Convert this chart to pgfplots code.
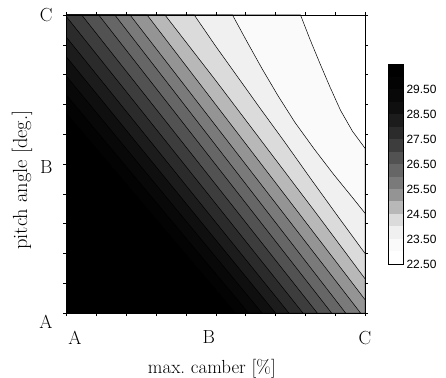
\documentclass[border=0pt]{standalone}
\usepackage{fontspec}
\newfontfamily\libsans{Liberation Sans}
\usepackage{pgfplots}
\pgfplotsset{compat=1.18}
\begin{document}
\begin{tikzpicture}
\begin{axis}[
  at={(0,0)}, anchor=south west,
  scale only axis, width=298.5bp, height=298bp,
  xmin=0, xmax=1, ymin=0, ymax=1,
  axis on top,
  axis line style={line width=0.6pt},
  tick align=outside,
  major tick length=0pt, minor tick length=3bp,
  every tick/.style={black, line width=0.5pt},
  xtick={0.028,0.477,1}, xticklabels={A,B,C},
  ytick={0,0.49,1}, yticklabels={\smash{\raisebox{-15.5bp}{A}},B,C},
  minor xtick={0,0.1,0.2,0.3,0.4,0.5,0.6,0.7,0.8,0.9,1},
  minor ytick={0,0.1,0.2,0.3,0.4,0.5,0.6,0.7,0.8,0.9,1},
  tick label style={font=\fontsize{19}{22}\selectfont},
  xticklabel style={yshift=-14.5bp},
  yticklabel style={xshift=-10.5bp},
  xlabel={max.\ camber [\%]},
  ylabel={pitch angle [deg.]},
  xlabel style={at={(axis description cs:0.487,-0.188)}, anchor=center, font=\fontsize{19}{22}\selectfont},
  ylabel style={at={(axis description cs:-0.149,0.446)}, anchor=center, font=\fontsize{20.5}{24}\selectfont},
]
% level 23.0
\addplot[fill=black!2, draw=black, line width=0.5pt] coordinates {(0,0)(0,1)(0.784,1)(0.815,0.92)(0.848,0.84)(0.882,0.76)(0.918,0.68)(0.958,0.61)(1,0.553)(1,0)} --cycle;
% level 23.5
\addplot[fill=black!6, draw=black, line width=0.5pt] coordinates {(0,0)(0,1)(0.556,1)(0.605,0.91)(0.655,0.82)(0.708,0.73)(0.765,0.64)(0.83,0.55)(0.895,0.465)(0.96,0.385)(1,0.335)(1,0)} --cycle;
% level 24.0
\addplot[fill=black!14, draw=black, line width=0.5pt] coordinates {(0,0)(0,1)(0.428,1)(0.50,0.895)(0.575,0.79)(0.65,0.685)(0.73,0.575)(0.815,0.455)(0.905,0.33)(1,0.20)(1,0)} --cycle;
% level 24.5
\addplot[fill=black!28, draw=black, line width=0.5pt] coordinates {(0,0)(0,1)(0.33,1)(0.5,0.78)(0.67,0.555)(0.84,0.33)(1,0.115)(1,0)} --cycle;
% level 25.0
\addplot[fill=black!42, draw=black, line width=0.5pt] coordinates {(0,0)(0,1)(0.27,1)(1,0.045)(1,0)} --cycle;
% level 25.5
\addplot[fill=black!52, draw=black, line width=0.5pt] coordinates {(0,0)(0,1)(0.213,1)(0.985,0)} --cycle;
% level 26.0
\addplot[fill=black!60, draw=black, line width=0.5pt] coordinates {(0,0)(0,1)(0.162,1)(0.935,0)} --cycle;
% level 26.5
\addplot[fill=black!68, draw=black, line width=0.5pt] coordinates {(0,0)(0,1)(0.108,1)(0.888,0)} --cycle;
% level 27.0
\addplot[fill=black!76, draw=black, line width=0.5pt] coordinates {(0,0)(0,1)(0.051,1)(0.84,0)} --cycle;
% level 27.5
\addplot[fill=black!83, draw=black, line width=0.5pt] coordinates {(0,0)(0,0.994)(0.792,0)} --cycle;
% level 28.0
\addplot[fill=black!89, draw=black, line width=0.5pt] coordinates {(0,0)(0,0.925)(0.745,0)} --cycle;
% level 28.5
\addplot[fill=black!94, draw=black, line width=0.5pt] coordinates {(0,0)(0,0.859)(0.70,0)} --cycle;
% level 29.0
\addplot[fill=black!97, draw=black, line width=0.5pt] coordinates {(0,0)(0,0.794)(0.655,0)} --cycle;
% level 29.5
\addplot[fill=black!99, draw=black, line width=0.5pt] coordinates {(0,0)(0,0.731)(0.61,0)} --cycle;
% level 30.0
\addplot[fill=black, draw=black, line width=0.5pt] coordinates {(0,0)(0,0.669)(0.565,0)} --cycle;
\end{axis}
\begin{axis}[
  at={(321.5bp,49bp)}, anchor=south west,
  scale only axis, width=15bp, height=200bp,
  xmin=0, xmax=1, ymin=22.5, ymax=30.5,
  axis on top,
  axis line style={line width=0.4pt},
  xtick=\empty,
  ytick={22.5,23.5,24.5,25.5,26.5,27.5,28.5,29.5},
  yticklabel pos=right,
  major tick length=0pt,
  yticklabel style={font=\libsans\fontsize{12}{14}\selectfont, /pgf/number format/.cd, fixed, fixed zerofill, precision=2, assume math mode=true},
]
\addplot[fill=white, draw=none] coordinates {(0,22.5)(1,22.5)(1,23.0)(0,23.0)} --cycle;
\addplot[fill=black!2, draw=none] coordinates {(0,23.0)(1,23.0)(1,23.5)(0,23.5)} --cycle;
\addplot[fill=black!6, draw=none] coordinates {(0,23.5)(1,23.5)(1,24.0)(0,24.0)} --cycle;
\addplot[fill=black!14, draw=none] coordinates {(0,24.0)(1,24.0)(1,24.5)(0,24.5)} --cycle;
\addplot[fill=black!28, draw=none] coordinates {(0,24.5)(1,24.5)(1,25.0)(0,25.0)} --cycle;
\addplot[fill=black!42, draw=none] coordinates {(0,25.0)(1,25.0)(1,25.5)(0,25.5)} --cycle;
\addplot[fill=black!52, draw=none] coordinates {(0,25.5)(1,25.5)(1,26.0)(0,26.0)} --cycle;
\addplot[fill=black!60, draw=none] coordinates {(0,26.0)(1,26.0)(1,26.5)(0,26.5)} --cycle;
\addplot[fill=black!68, draw=none] coordinates {(0,26.5)(1,26.5)(1,27.0)(0,27.0)} --cycle;
\addplot[fill=black!76, draw=none] coordinates {(0,27.0)(1,27.0)(1,27.5)(0,27.5)} --cycle;
\addplot[fill=black!83, draw=none] coordinates {(0,27.5)(1,27.5)(1,28.0)(0,28.0)} --cycle;
\addplot[fill=black!89, draw=none] coordinates {(0,28.0)(1,28.0)(1,28.5)(0,28.5)} --cycle;
\addplot[fill=black!94, draw=none] coordinates {(0,28.5)(1,28.5)(1,29.0)(0,29.0)} --cycle;
\addplot[fill=black!97, draw=none] coordinates {(0,29.0)(1,29.0)(1,29.5)(0,29.5)} --cycle;
\addplot[fill=black!99, draw=none] coordinates {(0,29.5)(1,29.5)(1,30.0)(0,30.0)} --cycle;
\addplot[fill=black, draw=none] coordinates {(0,30.0)(1,30.0)(1,30.5)(0,30.5)} --cycle;
\end{axis}
\pgfresetboundingbox
\path[use as bounding box] (-66.5bp,-65bp) rectangle (379.5bp,313bp);
\end{tikzpicture}
\end{document}
